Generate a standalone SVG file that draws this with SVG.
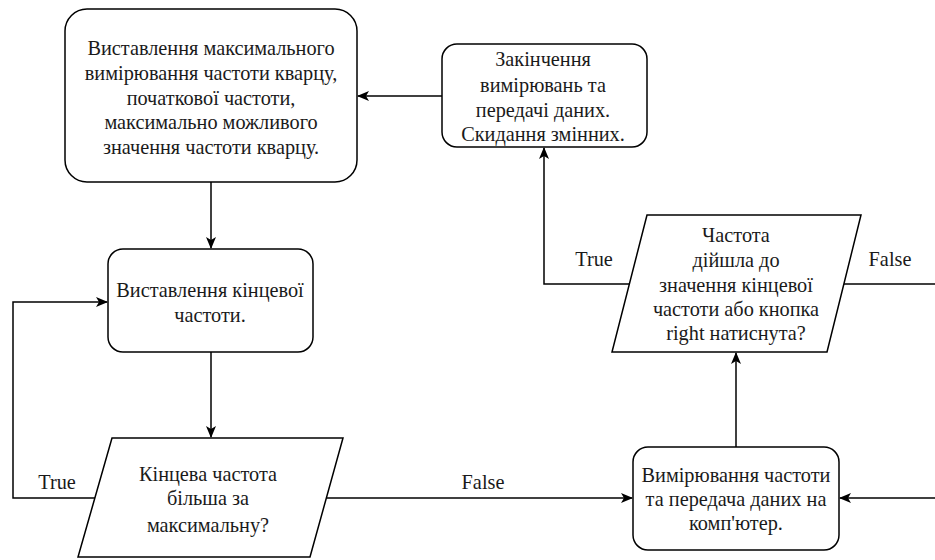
<svg xmlns="http://www.w3.org/2000/svg" width="935" height="560" viewBox="0 0 935 560">
<defs>
<style>
.n{fill:#fff;stroke:#000;stroke-width:1.5}
.t{font-family:"Liberation Serif","Times New Roman",serif;font-size:20.3px;fill:#1a1a1a;text-anchor:middle}
.c{fill:none;stroke:#000;stroke-width:1.5}
</style>
<marker id="a" viewBox="0 0 12 10" refX="11" refY="5" markerWidth="12" markerHeight="10" markerUnits="userSpaceOnUse" orient="auto">
<path d="M0,0 L12,5 L0,10 L3,5 z" fill="#000"/>
</marker>
</defs>
<rect width="935" height="560" fill="#fff"/>
<g id="connectors">
<path class="c" d="M211,182 V248" marker-end="url(#a)"/>
<path class="c" d="M211,352 V437" marker-end="url(#a)"/>
<path class="c" d="M442,96 H358" marker-end="url(#a)"/>
<path class="c" d="M95,498 H13 V302 H107" marker-end="url(#a)"/>
<path class="c" d="M327,498 H632" marker-end="url(#a)"/>
<path class="c" d="M935,498 H840" marker-end="url(#a)"/>
<path class="c" d="M736,447 V353" marker-end="url(#a)"/>
<path class="c" d="M630,284 H544 V148" marker-end="url(#a)"/>
<path class="c" d="M843,284 H935"/>
<text class="t" x="57" y="489">True</text>
<text class="t" x="483" y="489">False</text>
<text class="t" x="594" y="266">True</text>
<text class="t" x="890" y="266">False</text>
</g>
<g id="n1">
<rect class="n" x="65" y="9" width="292" height="173" rx="22"/>
<text class="t" x="211" y="55">Виставлення максимального</text>
<text class="t" x="211" y="80">вимірювання частоти кварцу,</text>
<text class="t" x="211" y="105">початкової частоти,</text>
<text class="t" x="211" y="129">максимально можливого</text>
<text class="t" x="211" y="154">значення частоти кварцу.</text>
</g>
<g id="n2">
<rect class="n" x="108" y="249" width="205" height="103" rx="15"/>
<text class="t" x="210" y="297">Виставлення кінцевої</text>
<text class="t" x="210" y="322">частоти.</text>
</g>
<g id="n3">
<polygon class="n" points="112,438 343,438 310,557 78,557"/>
<text class="t" x="208" y="481">Кінцева частота</text>
<text class="t" x="208" y="505">більша за</text>
<text class="t" x="208" y="532">максимальну?</text>
</g>
<g id="n4">
<rect class="n" x="633" y="447" width="206" height="103" rx="15"/>
<text class="t" x="736" y="482">Вимірювання частоти</text>
<text class="t" x="736" y="506">та передача даних на</text>
<text class="t" x="736" y="530">комп'ютер.</text>
</g>
<g id="n5">
<polygon class="n" points="647,215 861,215 827,352 612,352"/>
<text class="t" x="736" y="242">Частота</text>
<text class="t" x="736" y="267">дійшла до</text>
<text class="t" x="736" y="292">значення кінцевої</text>
<text class="t" x="736" y="316">частоти або кнопка</text>
<text class="t" x="736" y="340">right натиснута?</text>
</g>
<g id="n6">
<rect class="n" x="442" y="44" width="205" height="103" rx="15"/>
<text class="t" x="543" y="66">Закінчення</text>
<text class="t" x="543" y="92">вимірювань та</text>
<text class="t" x="543" y="117">передачі даних.</text>
<text class="t" x="543" y="141">Скидання змінних.</text>
</g>
</svg>
